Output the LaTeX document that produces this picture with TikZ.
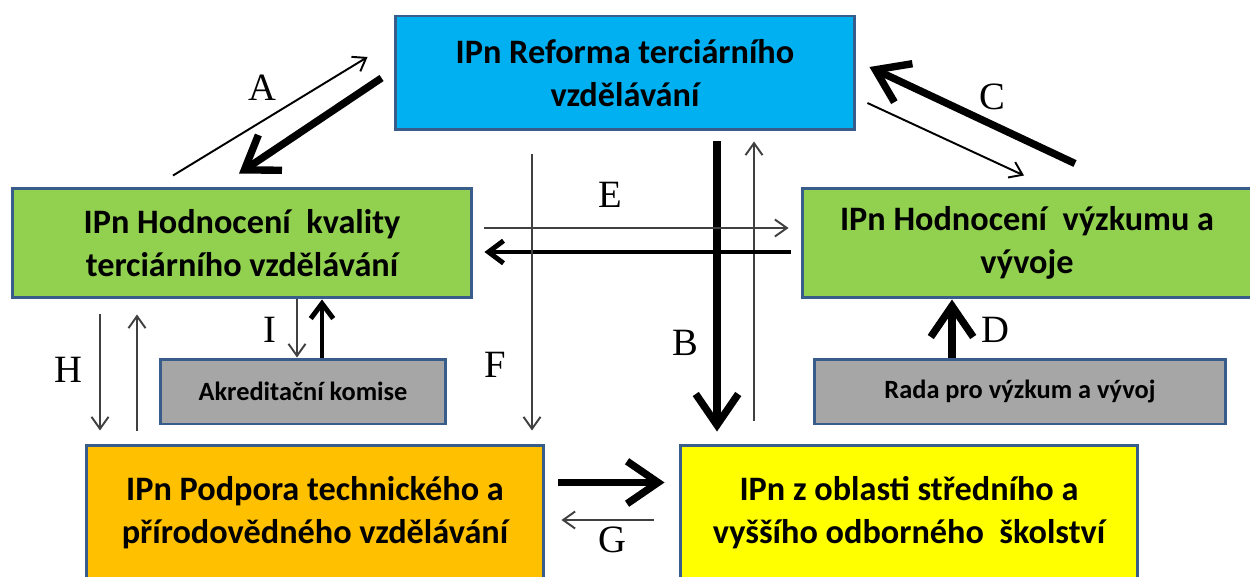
\documentclass[tikz,border=0pt]{standalone}
\usepackage{fontspec}
\setmainfont{Carlito}
\newfontfamily\labelfont{Liberation Serif}
\usepackage{xcolor}
\usepackage{tikz}
\usetikzlibrary{positioning}
\usetikzlibrary{arrows.meta}
\usetikzlibrary{calc}
\definecolor{boxblue}{RGB}{0,176,240}
\definecolor{boxgreen}{RGB}{146,208,80}
\definecolor{boxgray}{RGB}{166,166,166}
\definecolor{boxorange}{RGB}{255,192,0}
\definecolor{boxyellow}{RGB}{255,255,0}
\definecolor{outline}{RGB}{56,93,138}
\tikzset {
  % project boxes
  ipn/.style = {draw=outline, line width=1.7pt, align=center, inner sep=0pt,
    font=\fontsize{19.5}{24.5}\selectfont\bfseries},
  % small council boxes
  council/.style = {ipn, fill=boxgray, font=\fontsize{15}{17}\selectfont\bfseries},
  % weak and strong links
  minor/.style = {line width=1.1pt, black!75,
    -{Straight Barb[length=0.24cm, width=0.34cm]}},
  minordark/.style = {minor, black},
  medium/.style = {line width=2.8pt,
    -{Straight Barb[length=0.3cm, width=0.45cm]}},
  major/.style = {line width=4.2pt,
    -{Straight Barb[length=0.62cm, width=0.85cm]}},
  % letters on the links
  lbl/.style = {font=\labelfont\fontsize{22}{22}\selectfont},
}
\begin{document}
\begin{tikzpicture}[x=0.02cm, y=-0.02cm]
      \useasboundingbox (0,0) rectangle (1250,577);

      \node[ipn, fill=boxblue, minimum width=9.2cm, minimum height=2.28cm] (reforma) at (625,73) {IPn Reforma terciárního\\vzdělávání};
      \node[ipn, fill=boxgreen, minimum width=9.2cm, minimum height=2.2cm] (kvalita) at (242,243) {IPn Hodnocení\ \ kvality\\terciárního vzdělávání};
      \node[ipn, fill=boxgreen, minimum width=9.0cm, minimum height=2.2cm] (vyzkum) at (1027,243) {IPn Hodnocení\ \ výzkumu a\\vývoje};
      \node[council, minimum width=5.72cm, minimum height=1.3cm] (akreditace) at (303,391.5) {Akreditační komise};
      \node[council, minimum width=8.24cm, minimum height=1.3cm] (rada) at (1020,391.5) {Rada pro výzkum a vývoj};
      \node[ipn, fill=boxorange, minimum width=9.16cm, minimum height=2.7cm] (podpora) at (315,512.5) {IPn Podpora technického a\\přírodovědného vzdělávání};
      \node[ipn, fill=boxyellow, minimum width=9.16cm, minimum height=2.7cm] (stredni) at (909,512.5) {IPn z oblasti středního a\\vyššího odborného\ \ školství};

      % A
      \draw [minordark] ($(kvalita.north)+(-69,-11)$) -- ($(reforma.west)+(-26,-16)$);
      \draw [major] ($(reforma.west)+(-12,5)$) -- ($(kvalita.north)+(-3,-13)$);
      \node[lbl] (la) at (262,88) {A};

      % C
      \draw [major] ($(vyzkum.north)+(48,-23)$) -- ($(reforma.east)+(13,-6)$);
      \draw [minordark] ($(reforma.east)+(11,30)$) -- ($(vyzkum.north)+(-3,-11)$);
      \node[lbl] (lc) at (992,97) {C};

      % B
      \draw [major] ($(reforma.south)+(92,10)$) -- ($(stredni.north)+(-192,-12)$);
      \draw [minor] ($(stredni.north)+(-155,-23)$) -- ($(reforma.south)+(129,10)$);
      \node[lbl] (lb) at (685,343) {B};

      % E
      \draw [minor] ($(kvalita.east)+(11,-15)$) -- ($(vyzkum.west)+(-12,-15)$);
      \draw [medium] ($(vyzkum.west)+(-10,9)$) -- ($(kvalita.east)+(11,9)$);
      \node[lbl] (le) at (610,195) {E};

      % F
      \draw [minor] ($(reforma.south)+(-93,23)$) -- ($(podpora.north)+(217,-13)$);
      \node[lbl] (lf) at (495,365) {F};

      % H
      \draw [minor] ($(kvalita.south)+(-142,15)$) -- ($(podpora.north)+(-215,-13)$);
      \draw [minor] ($(podpora.north)+(-178,-13)$) -- ($(kvalita.south)+(-105,15)$);
      \node[lbl] (lh) at (68,370) {H};

      % I
      \draw [minor] ($(kvalita.south)+(55,0)$) -- ($(akreditace.north)+(-6,0)$);
      \draw [medium] ($(akreditace.north)+(19,0)$) -- ($(kvalita.south)+(80,0)$);
      \node[lbl] (li) at (270,330) {I};

      % D
      \draw [major] ($(rada.north)+(-68,0)$) -- ($(vyzkum.south)+(-75,0)$);
      \node[lbl] (ld) at (995,330) {D};

      % G
      \draw [major] ($(podpora.east)+(13,-30)$) -- ($(stredni.west)+(-14,-30)$);
      \draw [minor] ($(stredni.west)+(-25,7.5)$) -- ($(podpora.east)+(16,7.5)$);
      \node[lbl] (lg) at (612,540) {G};
\end{tikzpicture}
\end{document}
